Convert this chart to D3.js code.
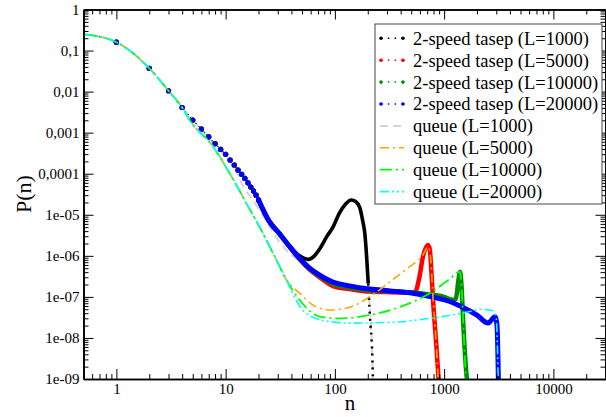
<!DOCTYPE html>
<html><head><meta charset="utf-8">
<script src="https://cdn.jsdelivr.net/npm/d3@7"></script>
<style>
html,body{margin:0;padding:0;background:#fff;}
svg{display:block;}
svg text{font-family:"Liberation Serif","Times New Roman","DejaVu Serif",serif;}
</style></head>
<body>
<svg id="chart" width="606" height="417"></svg>
<script>
// ---------- data ----------
const xTickValues = [1, 10, 100, 1000, 10000];
const xTickLabels = ["1", "10", "100", "1000", "10000"];
const yTickValues = [1, 1e-1, 1e-2, 1e-3, 1e-4, 1e-5, 1e-6, 1e-7, 1e-8, 1e-9];
const yTickLabels = ["1", "0,1", "0,01", "0,001", "0,0001", "1e-05", "1e-06", "1e-07", "1e-08", "1e-09"];
const seriesNames = ["2-speed tasep (L=1000)", "2-speed tasep (L=5000)", "2-speed tasep (L=10000)", "2-speed tasep (L=20000)",
                     "queue (L=1000)", "queue (L=5000)", "queue (L=10000)", "queue (L=20000)"];

// shared head of the tasep curves (integer n, shown as dots)
const tasepHeadN = [0.5, 1, 2, 3, 4, 5, 6, 7, 8, 9, 10, 11, 12, 13, 14, 15, 16, 17, 18, 19, 20];
const tasepHeadP = [0.25, 0.16, 0.037, 0.0105, 0.0041, 0.00203, 0.00123, 7.9e-4, 5.4e-4, 3.9e-4, 2.97e-4,
                    2.16e-4, 1.63e-4, 1.23e-4, 9.7e-5, 7.7e-5, 6.0e-5, 4.75e-5, 3.8e-5, 3.0e-5, 2.3e-5];

const tasep1000N = [25, 31, 38.6, 47.6, 57, 65, 73, 84, 96, 110, 125, 141, 155, 169, 180, 188, 195, 202, 207, 212, 216, 220, 224];
const tasep1000P = [7e-6, 3.5e-6, 1.67e-6, 1.0e-6, 8.2e-7, 1.0e-6, 1.5e-6, 2.9e-6, 5e-6, 1.1e-5, 1.8e-5, 2.3e-5, 2.1e-5, 1.5e-5, 7e-6, 3.5e-6, 1e-6, 2.1e-7, 6e-8, 2e-8, 1.07e-8, 4e-9, 5e-10];

const tasep5000N = [25, 31, 38.6, 47.6, 58.7, 72.6, 100, 136, 208, 320, 450, 540, 595, 640, 713, 740, 765, 795, 850, 905];
const tasep5000P = [7e-6, 3.5e-6, 1.65e-6, 8.2e-7, 4.6e-7, 3.0e-7, 1.75e-7, 1.55e-7, 1.35e-7, 1.3e-7, 1.28e-7, 1.3e-7, 3.1e-7, 9.5e-7, 1.84e-6, 1.4e-6, 4e-7, 7e-8, 6.2e-9, 5e-10];

const tasep10000N = [25, 31, 38.6, 47.6, 58.7, 72.6, 100, 136, 208, 320, 486, 740, 1000, 1200, 1280, 1350, 1400, 1440, 1500, 1580, 1660];
const tasep10000P = [7e-6, 3.5e-6, 1.67e-6, 8.5e-7, 4.8e-7, 3.2e-7, 2.0e-7, 1.7e-7, 1.45e-7, 1.38e-7, 1.3e-7, 1.15e-7, 1.0e-7, 8.5e-8, 9e-8, 2.5e-7, 4.1e-7, 2e-7, 2e-8, 2e-9, 5e-10];

const tasep20000N = [25, 31, 38.6, 47.6, 58.7, 72.6, 96, 136, 208, 320, 486, 740, 1140, 1600, 2000, 2526, 2920, 3050, 3150];
const tasep20000P = [7e-6, 3.5e-6, 1.67e-6, 8.7e-7, 5e-7, 3.4e-7, 2.3e-7, 1.85e-7, 1.55e-7, 1.4e-7, 1.26e-7, 1.02e-7, 7.6e-8, 5e-8, 3.6e-8, 2.3e-8, 3.3e-8, 2e-8, 5e-10];

const queue1000N = [0.5, 1, 2, 3, 4, 5, 6, 8, 10, 12, 15, 17, 20, 25.4, 31.3, 38.6, 47.6, 57, 65, 73, 84, 96, 110, 125, 141, 155, 169, 180, 188, 195, 202, 210, 216, 224];
const queue1000P = [0.25, 0.16, 0.037, 0.0105, 0.0041, 0.002, 1.15e-3, 5.0e-4, 2.6e-4, 1.4e-4, 4.2e-5, 2.7e-5, 1.4e-5, 5.1e-6, 2.1e-6, 1.15e-6, 8e-7, 7.8e-7, 1.0e-6, 1.5e-6, 2.9e-6, 5e-6, 1.1e-5, 1.8e-5, 2.3e-5, 2.1e-5, 1.5e-5, 7e-6, 3.5e-6, 1e-6, 2.1e-7, 4e-8, 1.07e-8, 5e-10];

// shared head of the lower queue curves
const queueHeadN = [0.5, 1, 2, 3, 4, 4.7, 7.67, 10.9, 15.5, 22, 29.2, 36];
const queueHeadP = [0.25, 0.16, 0.037, 0.0105, 0.0041, 2e-3, 4.6e-4, 1.02e-4, 1.9e-5, 3.5e-6, 7.9e-7, 2.6e-7];

const queue5000N = [47.6, 63, 89.6, 136, 208, 320, 486, 640, 713, 740, 795, 850, 895];
const queue5000P = [1.23e-7, 6.3e-8, 4.8e-8, 5.6e-8, 1e-7, 2.34e-7, 5.5e-7, 1.05e-6, 1.67e-6, 1.3e-6, 8e-8, 6e-9, 5e-10];

const queue10000N = [47.6, 72.6, 110, 208, 394, 740, 1140, 1390, 1440, 1500, 1600];
const queue10000P = [8.4e-8, 3.3e-8, 3e-8, 3.6e-8, 5.7e-8, 1.23e-7, 2.8e-7, 4.1e-7, 2e-7, 2e-8, 5e-10];

const queue20000N = [41, 47.6, 58.7, 89.6, 136, 320, 740, 1720, 2130, 2800, 3000, 3140];
const queue20000P = [1.23e-7, 6e-8, 3.5e-8, 2.5e-8, 2.3e-8, 2.4e-8, 3e-8, 4.4e-8, 5e-8, 4.6e-8, 3e-8, 5e-10];

// ---------- build ----------
const FONT = '"Liberation Serif","Times New Roman","DejaVu Serif",serif';
const zip = (ns, ps) => ns.map((n, i) => ({n: n, p: ps[i]}));
const headT = zip(tasepHeadN, tasepHeadP);
const headQ = zip(queueHeadN, queueHeadP);

const series = [
  {name: seriesNames[0], data: headT.concat(zip(tasep1000N, tasep1000P)), color: "#000000", kind: "tasep", w: 3.6},
  {name: seriesNames[1], data: headT.concat(zip(tasep5000N, tasep5000P)), color: "#ff0000", kind: "tasep", w: 4.5},
  {name: seriesNames[2], data: headT.concat(zip(tasep10000N, tasep10000P)), color: "#008b00", kind: "tasep", w: 4.5},
  {name: seriesNames[3], data: headT.concat(zip(tasep20000N, tasep20000P)), color: "#0000ff", kind: "tasep", w: 5},
  {name: seriesNames[4], data: zip(queue1000N, queue1000P), color: "#d3d3d3", kind: "queue", dash: "8,5", w: 2},
  {name: seriesNames[5], data: headQ.concat(zip(queue5000N, queue5000P)), color: "#ffa500", kind: "queue", dash: "9,4,2,4", w: 1.6},
  {name: seriesNames[6], data: headQ.concat(zip(queue10000N, queue10000P)), color: "#00ff00", kind: "queue", dash: "12,4,2,4", w: 1.8},
  {name: seriesNames[7], data: headQ.concat(zip(queue20000N, queue20000P)), color: "#00ffff", kind: "queue", dash: "9,3,2,3,2,3", w: 1.6}
];

const svg = d3.select("#chart");
const L = 83.5, R = 605.5, T = 9.5, B = 379;

const x = d3.scaleLog().domain([0.5, 30000]).range([L, R]);
const y = d3.scaleLog().domain([1e-9, 1]).range([B, T]);

svg.append("defs").append("clipPath").attr("id", "clip")
  .append("rect").attr("x", L).attr("y", T).attr("width", R - L).attr("height", B - T);

const plot = svg.append("g").attr("clip-path", "url(#clip)");
const line = d3.line().x(d => x(d.n)).y(d => y(d.p)).curve(d3.curveMonotoneX);

const drawQueue = s => {
  plot.append("path").datum(s.data).attr("d", line).attr("fill", "none")
    .attr("stroke", s.color).attr("stroke-width", s.w).attr("stroke-dasharray", s.dash);
};
// queue L=1000 lies under the tasep curves
drawQueue(series[4]);
// tasep curves
series.filter(s => s.kind === "tasep").forEach((s, si) => {
  const body = s.data.filter(d => d.n >= 20);
  // the L=1000 curve thins out into scattered dots below ~2e-7
  const solid = si === 0 ? body.filter(d => d.n <= 202) : body;
  plot.append("path").datum(solid)
    .attr("d", line).attr("fill", "none").attr("stroke", s.color)
    .attr("stroke-width", s.w).attr("stroke-linejoin", "round");
  if (si === 0) {
    plot.append("path").datum(body.filter(d => d.n >= 202))
      .attr("d", line).attr("fill", "none").attr("stroke", s.color)
      .attr("stroke-width", 2.5).attr("stroke-dasharray", "2,5");
  }
  plot.append("path").datum(s.data.filter(d => d.n <= 20))
    .attr("d", line).attr("fill", "none").attr("stroke", s.color)
    .attr("stroke-width", 1).attr("stroke-dasharray", "1,3");
  plot.selectAll(null).data(s.data.filter(d => d.n >= 1 && d.n <= 20)).enter().append("circle")
    .attr("cx", d => x(d.n)).attr("cy", d => y(d.p)).attr("r", 2.6).attr("fill", s.color);
});
// other queue curves on top
series.slice(5).forEach(drawQueue);

// ---------- axes ----------
const xMinor = [];
for (let e = -1; e <= 4; e++) for (let k = 2; k <= 9; k++) {
  const v = k * Math.pow(10, e);
  if (v >= 0.5 && v <= 30000) xMinor.push(v);
}
const yMinor = [];
for (let e = -9; e < 0; e++) for (let k = 2; k <= 9; k++) yMinor.push(k * Math.pow(10, e));

const axisStyle = g => {
  g.attr("font-family", FONT);
  g.selectAll("path.domain").attr("stroke", "#000").attr("stroke-width", 1.6);
  g.selectAll(".tick line").attr("stroke", "#000").attr("stroke-width", 1);
  g.selectAll("text").attr("font-family", FONT).attr("font-size", 15).attr("fill", "#000");
};

// bottom
svg.append("g").attr("transform", `translate(0,${B})`)
  .call(d3.axisBottom(x).tickValues(xMinor).tickSizeInner(-5).tickSizeOuter(0).tickFormat(""))
  .call(axisStyle);
svg.append("g").attr("transform", `translate(0,${B})`)
  .call(d3.axisBottom(x).tickValues(xTickValues).tickSizeInner(-10).tickSizeOuter(0).tickPadding(4)
    .tickFormat((d, i) => xTickLabels[i]))
  .call(axisStyle);
// top
svg.append("g").attr("transform", `translate(0,${T})`)
  .call(d3.axisTop(x).tickValues(xMinor).tickSizeInner(-5).tickSizeOuter(0).tickFormat(""))
  .call(axisStyle);
svg.append("g").attr("transform", `translate(0,${T})`)
  .call(d3.axisTop(x).tickValues(xTickValues).tickSizeInner(-10).tickSizeOuter(0).tickFormat(""))
  .call(axisStyle);
// left
svg.append("g").attr("transform", `translate(${L},0)`)
  .call(d3.axisLeft(y).tickValues(yMinor).tickSizeInner(-5).tickSizeOuter(0).tickFormat(""))
  .call(axisStyle);
svg.append("g").attr("transform", `translate(${L},0)`)
  .call(d3.axisLeft(y).tickValues(yTickValues).tickSizeInner(-10).tickSizeOuter(0).tickPadding(4)
    .tickFormat((d, i) => yTickLabels[i]))
  .call(axisStyle);
// right
svg.append("g").attr("transform", `translate(${R},0)`)
  .call(d3.axisRight(y).tickValues(yMinor).tickSizeInner(-5).tickSizeOuter(0).tickFormat(""))
  .call(axisStyle);
svg.append("g").attr("transform", `translate(${R},0)`)
  .call(d3.axisRight(y).tickValues(yTickValues).tickSizeInner(-10).tickSizeOuter(0).tickFormat(""))
  .call(axisStyle);

// axis titles
svg.append("text").attr("x", 350).attr("y", 410).attr("text-anchor", "middle")
  .attr("font-family", FONT).attr("font-size", 21).text("n");
svg.append("text").attr("transform", "translate(31,194) rotate(-90)").attr("text-anchor", "middle")
  .attr("font-family", FONT).attr("font-size", 22).text("P(n)");

// ---------- legend ----------
const lg = svg.append("g");
lg.append("rect").attr("x", 375).attr("y", 24).attr("width", 227).attr("height", 180)
  .attr("fill", "#fff").attr("stroke", "#444").attr("stroke-width", 1);
series.forEach((s, i) => {
  const cy = 38.3 + i * 21.9;
  if (s.kind === "tasep") {
    lg.append("line").attr("x1", 381).attr("x2", 403).attr("y1", cy).attr("y2", cy)
      .attr("stroke", s.color).attr("stroke-width", 1.5).attr("stroke-dasharray", "1.5,5.3");
    lg.selectAll(null).data([381, 403]).enter().append("circle")
      .attr("cx", d => d).attr("cy", cy).attr("r", 1.8).attr("fill", s.color);
  } else {
    lg.append("line").attr("x1", 380).attr("x2", 404).attr("y1", cy).attr("y2", cy)
      .attr("stroke", s.color).attr("stroke-width", s.w).attr("stroke-dasharray", s.dash);
  }
  lg.append("text").attr("x", 413).attr("y", cy).attr("dy", "0.35em")
    .attr("font-family", FONT).attr("font-size", 18.5).text(s.name);
});
</script>
</body></html>
